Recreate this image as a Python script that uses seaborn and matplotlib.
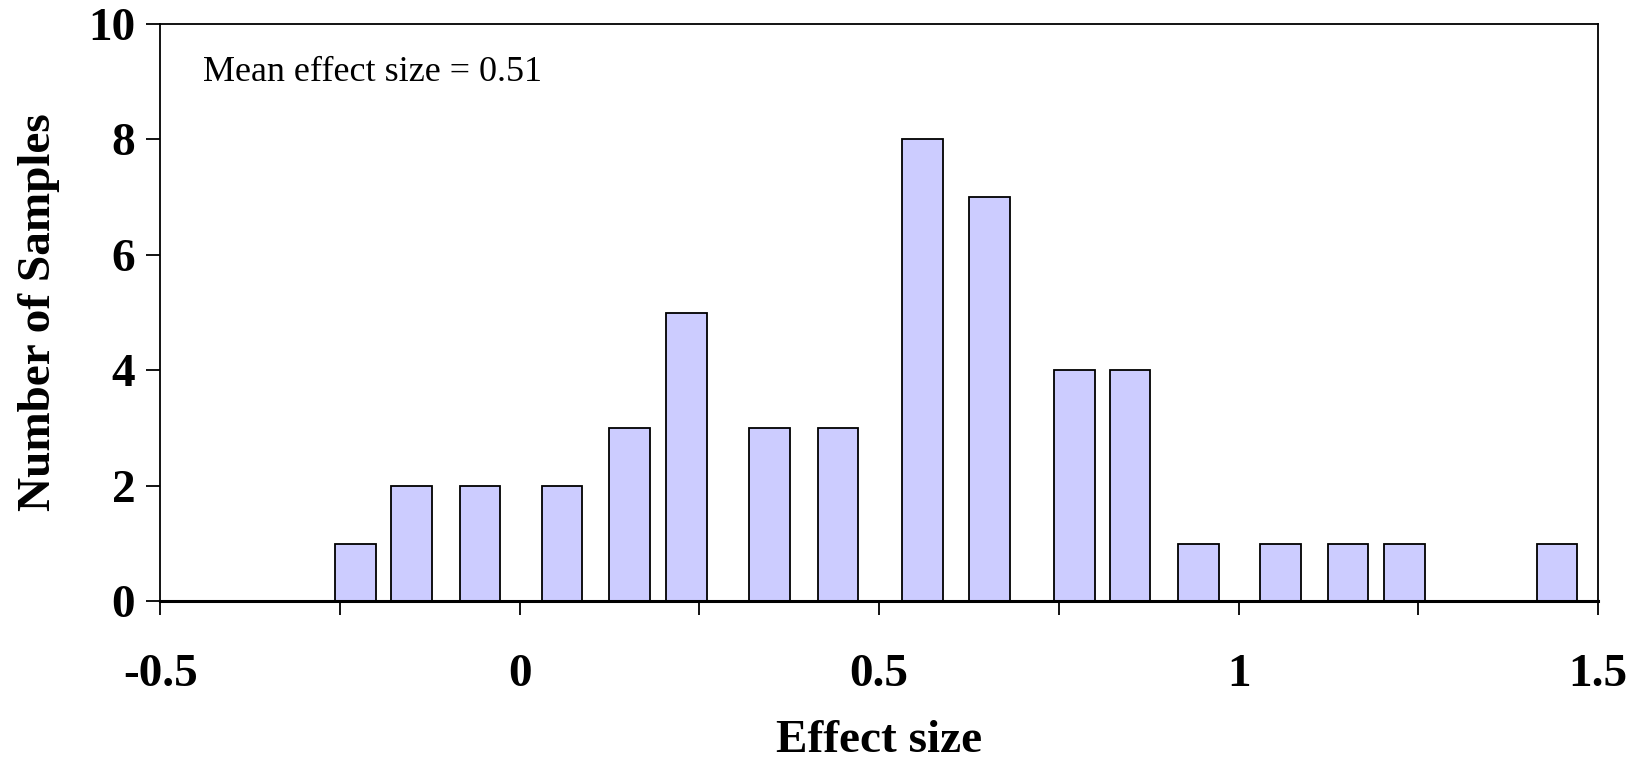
import numpy as np
import pandas as pd
import matplotlib
matplotlib.use('Agg')
import matplotlib.pyplot as plt
import seaborn as sns
from matplotlib.ticker import MultipleLocator, FixedLocator

# ── Dados ────────────────────────────────────────────────────────────────────
effect_size = [-0.228, -0.150, -0.055, 0.059, 0.153, 0.232, 0.348, 0.443,
               0.560, 0.654, 0.772, 0.849, 0.944, 1.058, 1.152, 1.231, 1.443]
n_samples = [1, 2, 2, 2, 3, 5, 3, 3, 8, 7, 4, 4, 1, 1, 1, 1, 1]
x_ticks = [-0.5, 0, 0.5, 1, 1.5]
x_tick_labels = ['-0.5', '0', '0.5', '1', '1.5']
y_ticks = [0, 2, 4, 6, 8, 10]
mean_label = 'Mean effect size = 0.51'

df = pd.DataFrame({'effect': effect_size, 'n': n_samples})

sns.set_style('white')
plt.rcParams['font.family'] = ['Liberation Serif', 'DejaVu Serif']
plt.rcParams.update({'text.color': 'black', 'axes.labelcolor': 'black',
                     'xtick.color': 'black', 'ytick.color': 'black'})

fig = plt.figure(figsize=(16.34, 7.65), dpi=100)
ax = fig.add_axes([0.098, 0.214, 0.880, 0.755])

# largura das barras em unidades de dados (~0.0566)
bar_w = 0.0566
min_gap = np.diff(np.sort(df['effect'].values)).min()

sns.barplot(data=df, x='effect', y='n', native_scale=True,
            width=bar_w / min_gap, color='#CCCCFF', saturation=1,
            edgecolor='black', linewidth=1.3, errorbar=None, ax=ax)

ax.set_xlim(-0.5, 1.5)
ax.set_ylim(0, 10)
ax.xaxis.set_major_locator(FixedLocator(x_ticks))
ax.set_xticklabels(x_tick_labels)
ax.xaxis.set_minor_locator(MultipleLocator(0.25))
ax.set_yticks(y_ticks)

ax.tick_params(axis='both', which='both', direction='out', length=10,
               width=1.3, color='black', bottom=True, left=True)
ax.tick_params(axis='x', which='major', pad=28, labelsize=34)
ax.tick_params(axis='y', which='major', pad=8, labelsize=34)
for lab in ax.get_xticklabels() + ax.get_yticklabels():
    lab.set_fontweight('bold')

for side in ['top', 'right', 'left']:
    ax.spines[side].set_linewidth(1.3)
    ax.spines[side].set_color('black')
ax.spines['bottom'].set_linewidth(2.2)
ax.spines['bottom'].set_color('black')

ax.set_xlabel('Effect size', fontsize=34, fontweight='bold', labelpad=17)
ax.set_ylabel('Number of Samples', fontsize=34, fontweight='bold', labelpad=20)

ax.text(0.03, 0.915, mean_label, transform=ax.transAxes,
        fontsize=26, ha='left', va='center')

fig.savefig('out.png', dpi=100)
